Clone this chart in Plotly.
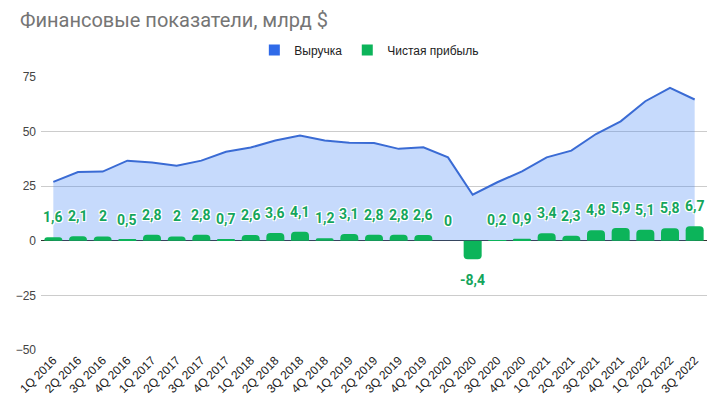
import plotly.graph_objects as go

quarters = ["1Q 2016", "2Q 2016", "3Q 2016", "4Q 2016", "1Q 2017", "2Q 2017", "3Q 2017", "4Q 2017",
            "1Q 2018", "2Q 2018", "3Q 2018", "4Q 2018", "1Q 2019", "2Q 2019", "3Q 2019", "4Q 2019",
            "1Q 2020", "2Q 2020", "3Q 2020", "4Q 2020", "1Q 2021", "2Q 2021", "3Q 2021", "4Q 2021",
            "1Q 2022", "2Q 2022", "3Q 2022"]
revenue = [27.0, 31.5, 31.7, 36.7, 35.8, 34.4, 36.7, 40.8,
           42.7, 45.9, 48.2, 45.9, 44.9, 44.8, 42.1, 42.8,
           38.2, 21.1, 26.8, 31.8, 38.2, 41.3, 48.9, 54.7,
           63.9, 70.0, 64.7]
net_income = [1.6, 2.1, 2, 0.5, 2.8, 2, 2.8, 0.7,
              2.6, 3.6, 4.1, 1.2, 3.1, 2.8, 2.8, 2.6,
              0, -8.4, 0.2, 0.9, 3.4, 2.3, 4.8, 5.9,
              5.1, 5.8, 6.7]
y_ticks = [-50, -25, 0, 25, 50, 75]
y_range = [-50, 75]

BLUE_LINE = "#3a6bd4"
BLUE_FILL = "rgba(66,133,244,0.30)"
GREEN = "#0cb45a"
GREEN_TEXT = "#14a55c"

fig = go.Figure()
fig.add_trace(go.Scatter(x=quarters, y=revenue, mode="lines", fill="tozeroy",
                         line=dict(color=BLUE_LINE, width=2), fillcolor=BLUE_FILL,
                         showlegend=False, hoverinfo="skip"))
fig.add_trace(go.Bar(x=quarters, y=net_income, yaxis="y2",
                     marker=dict(color=GREEN, cornerradius=4, line=dict(width=0)),
                     showlegend=False, hoverinfo="skip"))
# legend entries (square swatches)
fig.add_trace(go.Scatter(x=[None], y=[None], mode="markers", name="Выручка",
                         marker=dict(symbol="square", size=11, color="#2f6ae8")))
fig.add_trace(go.Scatter(x=[None], y=[None], mode="markers", name="Чистая прибыль",
                         marker=dict(symbol="square", size=11, color=GREEN)))

halo = "-1px -1px 0 #fff, 1px -1px 0 #fff, -1px 1px 0 #fff, 1px 1px 0 #fff, 0 0 2px #fff"
for q, v in zip(quarters, net_income):
    txt = (f"{v:g}").replace(".", ",")
    fig.add_annotation(x=q, y=v, yref="y2", text=txt, showarrow=False,
                       yshift=20 if v >= 0 else -21, yanchor="middle",
                       font=dict(family="Roboto", size=14, color=GREEN_TEXT, weight="bold", shadow=halo))

fig.update_layout(
    width=721, height=406,
    margin=dict(l=41, r=14, t=77, b=56, autoexpand=False),
    paper_bgcolor="white", plot_bgcolor="white",
    title=dict(text="Финансовые показатели, млрд $", x=20 / 721, xanchor="left", xref="container",
               y=1 - 20 / 406, yanchor="middle", yref="container",
               font=dict(family="Roboto", size=20, color="#757575")),
    legend=dict(orientation="h", x=0.493, xanchor="center", y=1.099, yanchor="middle",
                font=dict(family="Liberation Sans", size=12, color="#222"),
                itemwidth=30, traceorder="normal"),
    bargap=0.27,
    showlegend=True,
)
fig.update_xaxes(type="category", tickangle=-45, showgrid=False, showline=False, ticks="",
                 tickfont=dict(family="Liberation Sans", size=12, color="#222"))
fig.update_layout(
    yaxis=dict(range=y_range, tickvals=y_ticks, showgrid=True, gridcolor="#cccccc",
               zeroline=True, zerolinecolor="#333333", zerolinewidth=1,
               tickfont=dict(family="Liberation Sans", size=12, color="#444"), ticklabelstandoff=4),
    yaxis2=dict(range=y_range, overlaying="y", visible=False, showgrid=False, zeroline=False),
)

fig.write_html("out.html", post_script="document.body.style.margin='0';",
               config={"displayModeBar": False})
